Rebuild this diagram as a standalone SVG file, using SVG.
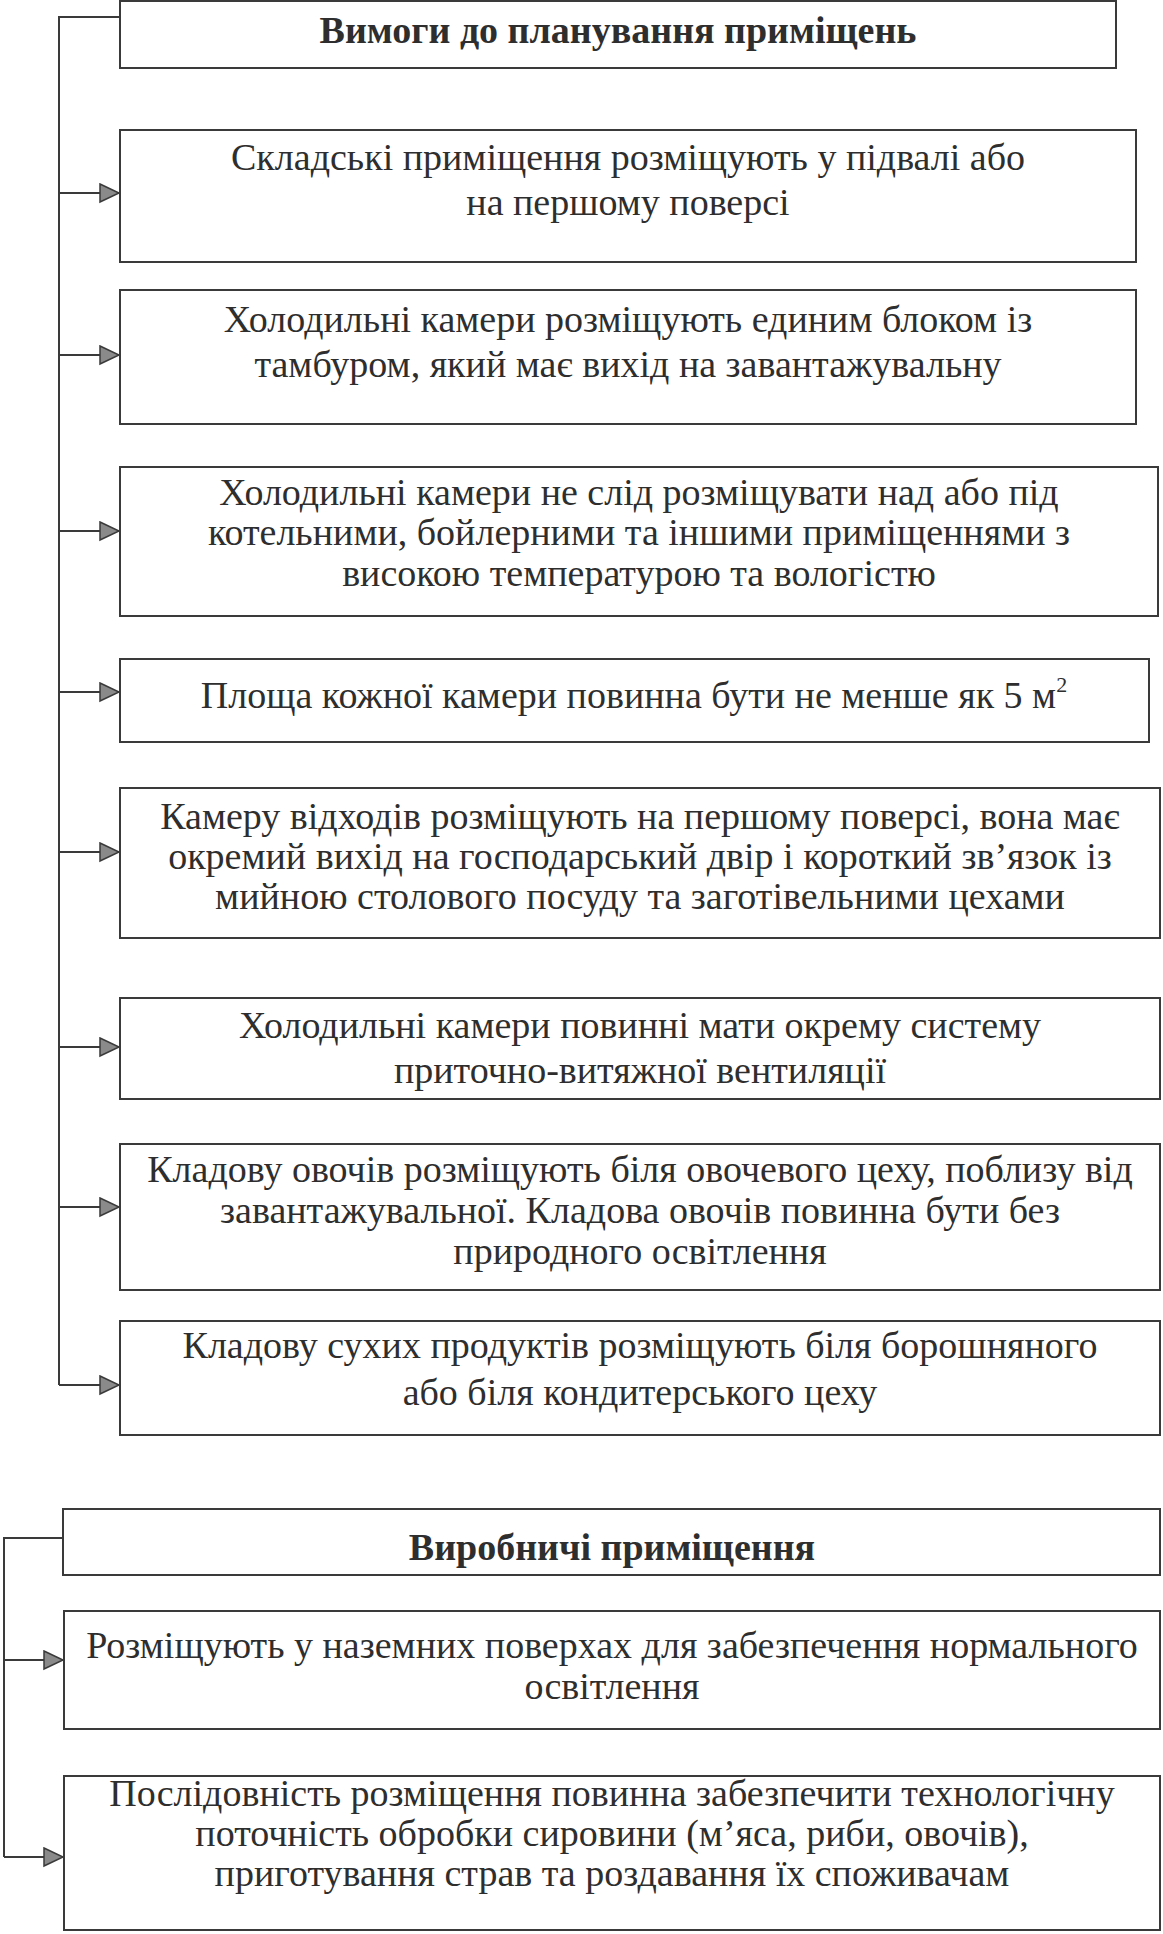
<svg xmlns="http://www.w3.org/2000/svg" width="1163" height="1934" viewBox="0 0 1163 1934">
<style>
.box{fill:#fff;stroke:#3a3a3a;stroke-width:2}
.t{font-family:"Liberation Serif","Times New Roman",serif;font-size:38px;fill:#2e2e2e;text-anchor:middle}
.b{font-weight:bold}
.ln{fill:none;stroke:#3a3a3a;stroke-width:2}
</style>
<defs>
<marker id="ah" markerUnits="userSpaceOnUse" markerWidth="24" markerHeight="22" refX="20" refY="10" orient="auto">
<path d="M1,1 L20,10 L1,19 Z" fill="#8a8a8a" stroke="#3a3a3a" stroke-width="1.5"/>
</marker>
</defs>
<rect width="1163" height="1934" fill="#fff"/>
<g id="connectors">
<path class="ln" d="M120,17 H59 V1385"/>
<path class="ln" d="M59,193 H119" marker-end="url(#ah)"/>
<path class="ln" d="M59,355 H119" marker-end="url(#ah)"/>
<path class="ln" d="M59,531 H119" marker-end="url(#ah)"/>
<path class="ln" d="M59,692 H119" marker-end="url(#ah)"/>
<path class="ln" d="M59,852 H119" marker-end="url(#ah)"/>
<path class="ln" d="M59,1047 H119" marker-end="url(#ah)"/>
<path class="ln" d="M59,1207 H119" marker-end="url(#ah)"/>
<path class="ln" d="M59,1385 H119" marker-end="url(#ah)"/>
<path class="ln" d="M63,1538 H4 V1857"/>
<path class="ln" d="M4,1660 H63" marker-end="url(#ah)"/>
<path class="ln" d="M4,1857 H63" marker-end="url(#ah)"/>
</g>
<g id="n-title">
<rect class="box" x="120" y="1" width="996" height="67"/>
<text class="t b" x="618" y="43">Вимоги до планування приміщень</text>
</g>
<g id="n1">
<rect class="box" x="120" y="130" width="1016" height="132"/>
<text class="t" x="628" y="170">Складські приміщення розміщують у підвалі або</text>
<text class="t" x="628" y="215">на першому поверсі</text>
</g>
<g id="n2">
<rect class="box" x="120" y="290" width="1016" height="134"/>
<text class="t" x="628" y="332">Холодильні камери розміщують единим блоком із</text>
<text class="t" x="628" y="377">тамбуром, який має вихід на завантажувальну</text>
</g>
<g id="n3">
<rect class="box" x="120" y="467" width="1038" height="149"/>
<text class="t" x="639" y="505">Холодильні камери не слід розміщувати над або під</text>
<text class="t" x="639" y="545">котельними, бойлерними та іншими приміщеннями з</text>
<text class="t" x="639" y="586">високою температурою та вологістю</text>
</g>
<g id="n4">
<rect class="box" x="120" y="659" width="1029" height="83"/>
<text class="t" x="634" y="708">Площа кожної камери повинна бути не менше  як 5 м<tspan font-size="22" dy="-16">2</tspan></text>
</g>
<g id="n5">
<rect class="box" x="120" y="788" width="1040" height="150"/>
<text class="t" x="640" y="829">Камеру відходів розміщують на першому поверсі, вона має</text>
<text class="t" x="640" y="869">окремий вихід на господарський двір і короткий зв’язок із</text>
<text class="t" x="640" y="909">мийною столового посуду та заготівельними цехами</text>
</g>
<g id="n6">
<rect class="box" x="120" y="998" width="1040" height="101"/>
<text class="t" x="640" y="1038">Холодильні камери повинні мати окрему систему</text>
<text class="t" x="640" y="1083">приточно-витяжної вентиляції</text>
</g>
<g id="n7">
<rect class="box" x="120" y="1144" width="1040" height="146"/>
<text class="t" x="640" y="1182">Кладову овочів розміщують біля овочевого цеху, поблизу від</text>
<text class="t" x="640" y="1223">завантажувальної. Кладова овочів повинна бути без</text>
<text class="t" x="640" y="1264">природного освітлення</text>
</g>
<g id="n8">
<rect class="box" x="120" y="1321" width="1040" height="114"/>
<text class="t" x="640" y="1358">Кладову сухих продуктів розміщують біля борошняного</text>
<text class="t" x="640" y="1405">або біля кондитерського цеху</text>
</g>
<g id="n-title2">
<rect class="box" x="63" y="1509" width="1097" height="66"/>
<text class="t b" x="612" y="1560">Виробничі приміщення</text>
</g>
<g id="n9">
<rect class="box" x="64" y="1611" width="1096" height="118"/>
<text class="t" x="612" y="1658">Розміщують у наземних поверхах для забезпечення нормального</text>
<text class="t" x="612" y="1699">освітлення</text>
</g>
<g id="n10">
<rect class="box" x="64" y="1776" width="1096" height="154"/>
<text class="t" x="612" y="1806">Послідовність розміщення повинна забезпечити технологічну</text>
<text class="t" x="612" y="1846">поточність обробки сировини (м’яса, риби, овочів),</text>
<text class="t" x="612" y="1886">приготування страв та роздавання їх споживачам</text>
</g>
</svg>
